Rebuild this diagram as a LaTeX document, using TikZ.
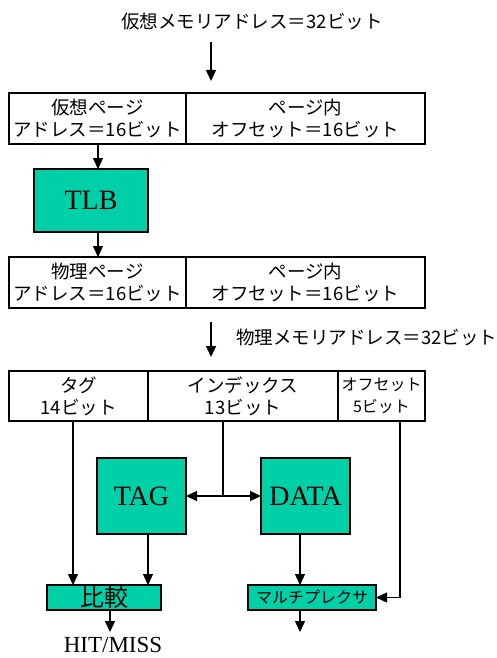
\documentclass[tikz,border=0pt]{standalone}
\usepackage{fontspec}
\setmainfont{Liberation Serif}
\newfontfamily\jp{Noto Sans CJK JP}
\usetikzlibrary{arrows.meta}
\definecolor{teal1}{RGB}{0,208,168}
\begin{document}
\begin{tikzpicture}[x=1pt,y=-1pt,
  cell/.style={draw=black,line width=1.3pt,fill=white,inner sep=0pt,outer sep=0pt,
    minimum height=51pt,align=center,font=\jp\fontsize{18.5}{22}\selectfont},
  unit/.style={draw=black,line width=1.3pt,fill=teal1,inner sep=0pt,outer sep=0pt},
  arr/.style={line width=1.4pt,-{Triangle[width=10pt,length=11pt]}},
  ln/.style={line width=1.4pt},
  jptext/.style={inner sep=0pt,font=\jp\fontsize{18.5}{22}\selectfont}]
\useasboundingbox (0,0) rectangle (496,658);
% top label
\node[jptext] (vaddr) at (252,22) {仮想メモリアドレス＝32ビット};
\coordinate (a1s) at (211,42);
\coordinate (a1e) at (211,81);
\draw[arr] (a1s) -- (a1e);
% box 1
\node[cell,minimum width=177pt] (b1l) at (97.5,118.5) {仮想ページ\\アドレス＝16ビット};
\node[cell,minimum width=239pt] (b1r) at (305.5,118.5) {ページ内\\オフセット＝16ビット};
% TLB
\node[unit,minimum width=114pt,minimum height=63pt,font=\fontsize{28}{28}\selectfont] (tlb) at (91,200.5) {TLB};
\coordinate (tx) at (98,0);
\draw[arr] (tx |- b1l.south) -- (tx |- tlb.north);
% box 2
\node[cell,minimum width=177pt] (b2l) at (97.5,282.5) {物理ページ\\アドレス＝16ビット};
\node[cell,minimum width=239pt] (b2r) at (305.5,282.5) {ページ内\\オフセット＝16ビット};
\draw[arr] (tx |- tlb.south) -- (tx |- b2l.north);
% physical address
\coordinate (a2s) at (211,322);
\coordinate (a2e) at (211,357);
\draw[arr] (a2s) -- (a2e);
\node[jptext,anchor=west] (paddr) at (236,337) {物理メモリアドレス＝32ビット};
% box 3
\node[cell,minimum width=139pt,minimum height=50pt] (b3a) at (78.5,396) {タグ\\14ビット};
\node[cell,minimum width=190pt,minimum height=50pt] (b3b) at (243,396) {インデックス\\13ビット};
\node[cell,minimum width=87pt,minimum height=50pt,font=\jp\fontsize{16}{22}\selectfont] (b3c) at (381.5,396) {オフセット\\5ビット};
% TAG / DATA
\node[unit,minimum width=89pt,minimum height=76pt,font=\fontsize{28}{28}\selectfont] (tag) at (141.5,496) {TAG};
\node[unit,minimum width=89pt,minimum height=76pt,font=\fontsize{28}{28}\selectfont] (data) at (305.5,496) {DATA};
% compare / mux
\node[unit,minimum width=114pt,minimum height=25pt,font=\jp\fontsize{24}{24}\selectfont] (cmp) at (104,597.5) {比較};
\node[unit,minimum width=128pt,minimum height=25pt,font=\jp\fontsize{16}{16}\selectfont] (mux) at (312,597.5) {マルチプレクサ};
% connectors
\coordinate (tagx) at (73,0);
\draw[arr] (tagx |- b3a.south) -- (tagx |- cmp.north);
\coordinate (idxx) at (223,0);
\coordinate (junc) at (223,496);
\draw[ln] (idxx |- b3b.south) -- (junc);
\draw[arr] (junc) -- (tag.east);
\draw[arr] (junc) -- (data.west);
\coordinate (offx) at (400,0);
\draw[arr] (offx |- b3c.south) |- (mux.east);
\coordinate (tgx) at (148,0);
\draw[arr] (tgx |- tag.south) -- (tgx |- cmp.north);
\coordinate (dx) at (300,0);
\draw[arr] (dx |- data.south) -- (dx |- mux.north);
\coordinate (cx) at (110,0);
\coordinate (hitend) at (110,632);
\draw[arr] (cx |- cmp.south) -- (hitend);
\node[inner sep=0pt,anchor=base,font=\fontsize{23}{23}\selectfont] (hit) at (113,652) {HIT/MISS};
\coordinate (muxend) at (300,632);
\draw[arr] (dx |- mux.south) -- (muxend);
\end{tikzpicture}
\end{document}
